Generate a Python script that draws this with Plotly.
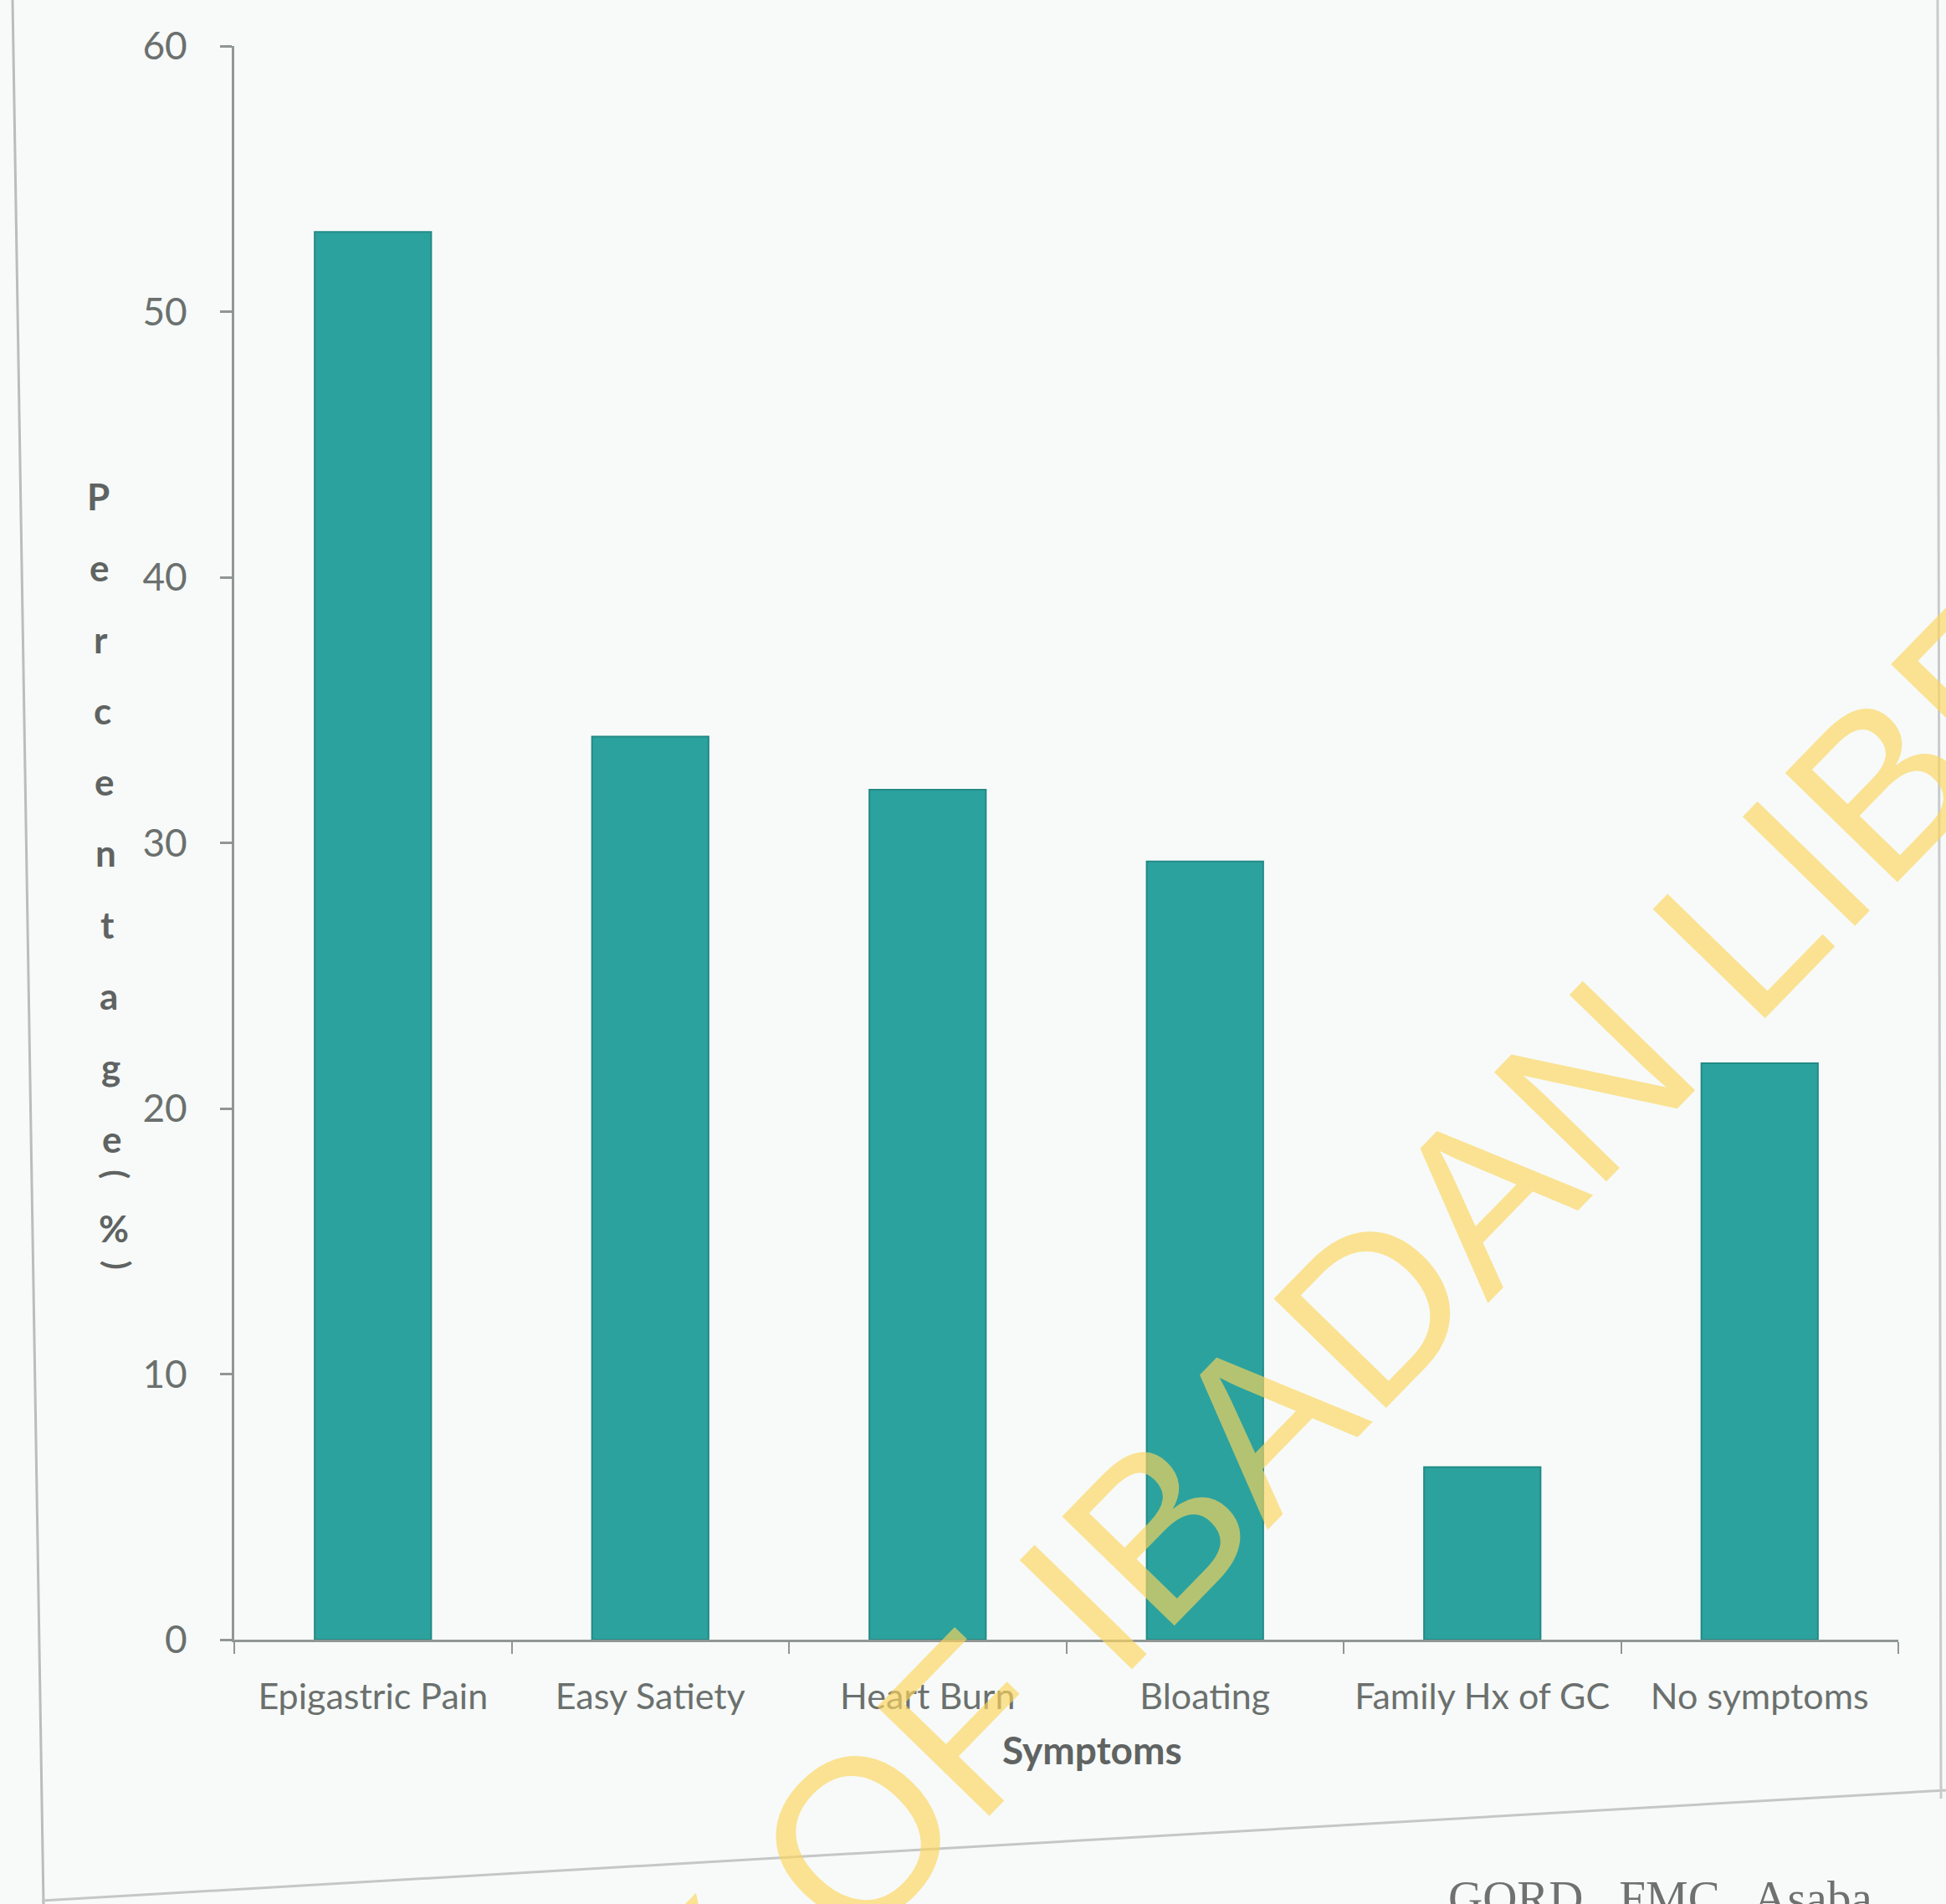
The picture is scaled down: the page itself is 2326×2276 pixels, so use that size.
import plotly.graph_objects as go

categories = ["Epigastric Pain", "Easy Satiety", "Heart Burn", "Bloating", "Family Hx of GC", "No symptoms"]
percentages = [53.0, 34.0, 32.0, 29.3, 6.5, 21.7]
y_ticks = [0, 10, 20, 30, 40, 50, 60]
y_title_chars = ["P", "e", "r", "c", "e", "n", "t", "a", "g", "e", "(", "%", ")"]

W, H = 2326, 2276
ML, MR, MT, MB = 280, 57, 55, 316
PW, PH = W - ML - MR, H - MT - MB


def px(x):
    return (x - ML) / PW


def py(y):
    return (H - MB - y) / PH


GREY = "#6b706e"
AXIS = "#8f9693"

fig = go.Figure()
fig.add_trace(go.Bar(
    x=categories, y=percentages,
    marker=dict(color="#2ca29e", line=dict(color="#238a86", width=2)),
    showlegend=False,
))

annotations = []
# stacked y-axis title letters (parentheses turned sideways as in the original)
y_positions = [593 + 85.3 * i for i in range(10)] + [1404, 1468, 1512]
for ch, yy in zip(y_title_chars, y_positions):
    xx = 117 + 0.022 * (yy - 593)
    is_paren = ch in ("(", ")")
    annotations.append(dict(
        text=ch, x=px(xx + (4 if is_paren else 0)), y=py(yy), xref="paper", yref="paper",
        showarrow=False, xanchor="center", yanchor="middle",
        textangle=90 if is_paren else 0,
        font=dict(family="Lato", size=40 if is_paren else 44, color="#5f6362", weight="bold"),
    ))

# x-axis title
annotations.append(dict(
    text="<b>Symptoms</b>", x=px(1305), y=py(2091), xref="paper", yref="paper",
    showarrow=False, xanchor="center", yanchor="middle",
    font=dict(family="Lato", size=46, color="#5f6362"),
))

# watermark
annotations.append(dict(
    text="UNIVERSITY OF IBADAN LIBRARY", x=px(1300), y=py(1915),
    xref="paper", yref="paper", showarrow=False,
    xanchor="center", yanchor="middle", textangle=-45.8,
    font=dict(family="Liberation Sans", size=272, color="#fdd65c"),
    opacity=0.65,
))

# caption fragment at the bottom
annotations.append(dict(
    text="GORD,  FMC,  Asaba", x=px(1729), y=py(2268),
    xref="paper", yref="paper", showarrow=False,
    xanchor="left", yanchor="middle",
    font=dict(family="Liberation Serif", size=57, color="#707070"),
))

shapes = [
    dict(type="line", xref="paper", yref="paper",
         x0=px(15), y0=py(0), x1=px(52), y1=py(2276),
         line=dict(color="#b9bdbb", width=3)),
    dict(type="line", xref="paper", yref="paper",
         x0=px(50), y0=py(2272), x1=px(2326), y1=py(2140),
         line=dict(color="#c4c7c6", width=3)),
    dict(type="line", xref="paper", yref="paper",
         x0=px(2316), y0=py(0), x1=px(2320), y1=py(2150),
         line=dict(color="#c8cbca", width=3)),
]

fig.update_layout(
    width=W, height=H,
    margin=dict(l=ML, r=MR, t=MT, b=MB),
    paper_bgcolor="#f7faf8", plot_bgcolor="#f7faf8",
    bargap=0.58,
    annotations=annotations,
    shapes=shapes,
    font=dict(family="Lato", color=GREY),
)
fig.update_yaxes(
    range=[0, 60], tickvals=y_ticks, showgrid=False, zeroline=False,
    showline=True, linecolor=AXIS, linewidth=3,
    ticks="outside", ticklen=14, tickwidth=3, tickcolor=AXIS,
    tickfont=dict(family="Lato", size=46, color=GREY),
    ticklabelstandoff=30,
)
fig.update_xaxes(
    showgrid=False, showline=True, linecolor=AXIS, linewidth=3,
    ticks="outside", ticklen=14, tickwidth=2, tickcolor=AXIS,
    tickson="boundaries", tickangle=0,
    tickfont=dict(family="Lato", size=43, color=GREY),
    ticklabelstandoff=28,
)

fig.write_html("out.html")
